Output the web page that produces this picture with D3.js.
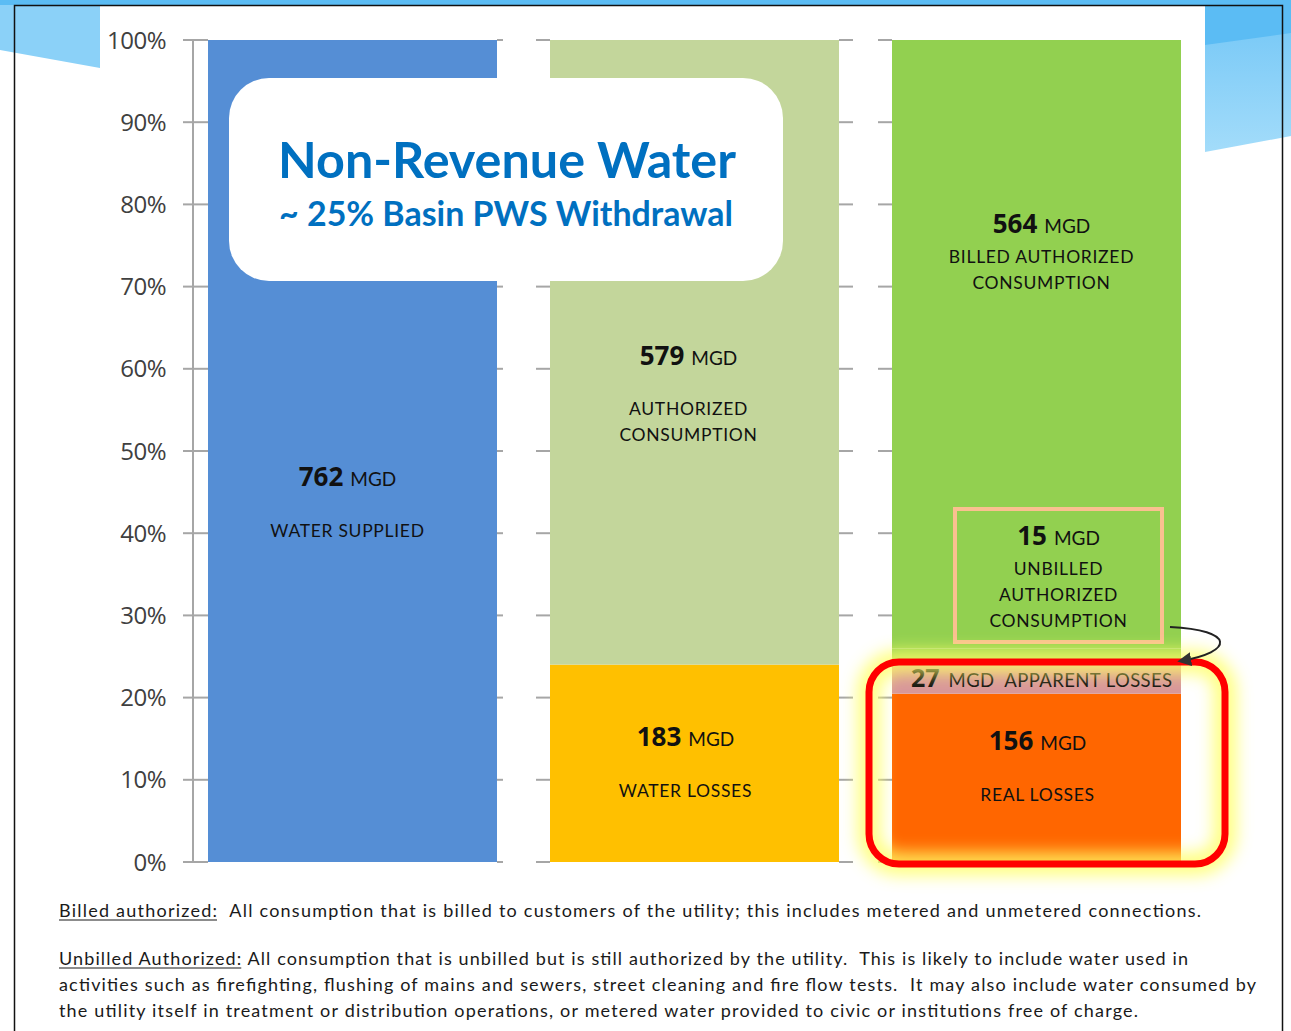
<!DOCTYPE html>
<html>
<head>
<meta charset="utf-8">
<script src="https://cdn.jsdelivr.net/npm/d3@7/dist/d3.min.js"></script>
<style>
  body { margin: 0; background: #fff; }
  svg { display: block; }
</style>
</head>
<body>
<svg id="chart" width="1291" height="1031"></svg>
<script>
// data (MGD)
const columns = ["supplied", "split", "detail"];
const suppliedNames = ["WATER SUPPLIED"];
const suppliedMgd = [762];
const splitNames = ["WATER LOSSES", "AUTHORIZED CONSUMPTION"];
const splitMgd = [183, 579];
const detailNames = ["REAL LOSSES", "APPARENT LOSSES", "UNBILLED AUTHORIZED CONSUMPTION", "BILLED AUTHORIZED CONSUMPTION"];
const detailMgd = [156, 27, 15, 564];
const tickValues = [0, 0.1, 0.2, 0.3, 0.4, 0.5, 0.6, 0.7, 0.8, 0.9, 1];

const colors = {
  "WATER SUPPLIED": "#558ed5",
  "WATER LOSSES": "#ffc000",
  "AUTHORIZED CONSUMPTION": "#c3d69b",
  "REAL LOSSES": "#ff6600",
  "APPARENT LOSSES": "#d8979a",
  "UNBILLED AUTHORIZED CONSUMPTION": "#92d050",
  "BILLED AUTHORIZED CONSUMPTION": "#92d050"
};

const total = suppliedMgd[0];
const svg = d3.select("#chart");

// stack each column into [y0, y1] fractions of supply
function stackCol(names, vals) {
  let acc = 0;
  return names.map((n, i) => {
    const d = { name: n, mgd: vals[i], y0: acc / total, y1: (acc + vals[i]) / total };
    acc += vals[i];
    return d;
  });
}
const stacks = [
  stackCol(suppliedNames, suppliedMgd),
  stackCol(splitNames, splitMgd),
  stackCol(detailNames, detailMgd)
];

const x = d3.scaleBand().domain(columns).range([208, 1181]).paddingInner(0.155);
const y = d3.scaleLinear().domain([0, 1]).range([862, 40]);

// background decoration
const defs = svg.append("defs");
const grad = defs.append("linearGradient").attr("id", "lightBlue").attr("x1", 0).attr("y1", 0).attr("x2", 0).attr("y2", 1);
grad.append("stop").attr("offset", "0%").attr("stop-color", "#72c6f6");
grad.append("stop").attr("offset", "100%").attr("stop-color", "#a3dcfa");
const glow = defs.append("filter").attr("id", "glow").attr("x", "-20%").attr("y", "-30%").attr("width", "140%").attr("height", "160%");
glow.append("feGaussianBlur").attr("stdDeviation", 8);

svg.append("rect").attr("x", 0).attr("y", 0).attr("width", 1291).attr("height", 6).attr("fill", "#5bbcf4");
svg.append("polygon").attr("points", "0,5 100,5 100,68 0,50").attr("fill", "#8bd1f8");
svg.append("polygon").attr("points", "1205,5 1291,5 1291,136 1205,152").attr("fill", "url(#lightBlue)");
svg.append("polygon").attr("points", "1205,5 1291,5 1291,33 1205,45").attr("fill", "#5bbcf4");

// slide border
svg.append("path")
  .attr("d", "M14.5,1031 V5.5 H1282.5 V1031")
  .attr("fill", "none").attr("stroke", "#111").attr("stroke-width", 1.5);

// y axis
const axisG = svg.append("g");
axisG.append("line").attr("x1", 193).attr("x2", 193).attr("y1", y(0)).attr("y2", y(1))
  .attr("stroke", "#a6a6a6").attr("stroke-width", 2);
axisG.selectAll(".tick").data(tickValues).join("line")
  .attr("x1", 183).attr("x2", x("supplied"))
  .attr("y1", d => y(d)).attr("y2", d => y(d))
  .attr("stroke", "#a6a6a6").attr("stroke-width", 2);
axisG.selectAll(".lbl").data(tickValues).join("text")
  .attr("x", 166).attr("y", d => y(d)).attr("dy", "0.36em")
  .attr("text-anchor", "end")
  .attr("font-family", "Open Sans").attr("font-size", 24).attr("fill", "#404040")
  .attr("letter-spacing", -0.5)
  .text(d3.format(".0%"));

// ticks beside the other columns
const sideTicks = [
  { x1: x("supplied") + x.bandwidth(), x2: x("supplied") + x.bandwidth() + 6 },
  { x1: x("split") - 14, x2: x("split") },
  { x1: x("split") + x.bandwidth(), x2: x("split") + x.bandwidth() + 14 },
  { x1: x("detail") - 14, x2: x("detail") }
];
sideTicks.forEach(s => {
  svg.append("g").selectAll("line").data(tickValues).join("line")
    .attr("x1", s.x1).attr("x2", s.x2)
    .attr("y1", d => y(d)).attr("y2", d => y(d))
    .attr("stroke", "#a6a6a6").attr("stroke-width", 2);
});

// bars
stacks.forEach((col, i) => {
  svg.append("g").selectAll("rect").data(col).join("rect")
    .attr("x", x(columns[i]))
    .attr("width", x.bandwidth())
    .attr("y", d => y(d.y1))
    .attr("height", d => y(d.y0) - y(d.y1))
    .attr("fill", d => colors[d.name]);
});

// title box
svg.append("rect").attr("x", 229).attr("y", 78).attr("width", 554).attr("height", 203)
  .attr("rx", 40).attr("fill", "#fff");

function fitWidth(sel, w) {
  const len = sel.node().getComputedTextLength();
  const fs = parseFloat(sel.attr("font-size"));
  sel.attr("font-size", fs * w / len);
}
const t1 = svg.append("text").attr("x", 507).attr("y", 178).attr("text-anchor", "middle")
  .attr("font-family", "Lato").attr("font-weight", "bold").attr("font-size", 48)
  .attr("fill", "#0070c0").text("Non-Revenue Water");
fitWidth(t1, 458);
const t2 = svg.append("text").attr("x", 506).attr("y", 226).attr("text-anchor", "middle")
  .attr("font-family", "Lato").attr("font-weight", "bold").attr("font-size", 32)
  .attr("fill", "#0070c0").text("~ 25% Basin PWS Withdrawal");
fitWidth(t2, 454);

// segment labels
function segLabel(cx, baseline, mgd, lines, gap) {
  const g = svg.append("g").attr("fill", "#111");
  const t = g.append("text").attr("x", cx).attr("y", baseline).attr("text-anchor", "middle");
  t.append("tspan").attr("font-family", "Open Sans").attr("font-weight", "bold").attr("font-size", 26).text(mgd);
  t.append("tspan").attr("font-family", "Lato").attr("font-size", 19).attr("dx", 7).text("MGD");
  lines.forEach((ln, k) => {
    g.append("text").attr("x", cx).attr("y", baseline + gap + k * 26).attr("text-anchor", "middle")
      .attr("font-family", "Lato").attr("font-size", 17.5).attr("letter-spacing", 0.7).text(ln);
  });
}
const cSup = x("supplied") + x.bandwidth() / 2;
const cSplit = x("split") + x.bandwidth() / 2;
const cDet = x("detail") + x.bandwidth() / 2;

// unbilled annotation box
svg.append("rect").attr("x", 955).attr("y", 509).attr("width", 207).attr("height", 133)
  .attr("fill", "none").attr("stroke", "#fac090").attr("stroke-width", 4);

segLabel(cSup - 5, y(0.457), suppliedMgd[0], ["WATER SUPPLIED"], 51);
segLabel(cSplit - 6, y(0.605), splitMgd[1], ["AUTHORIZED", "CONSUMPTION"], 50);
segLabel(cSplit - 9, y(0.141), splitMgd[0], ["WATER LOSSES"], 51);
segLabel(cDet + 5, y(0.765), detailMgd[3], ["BILLED AUTHORIZED", "CONSUMPTION"], 30);
segLabel(cDet + 22, y(0.386), detailMgd[2], ["UNBILLED", "AUTHORIZED", "CONSUMPTION"], 30);
segLabel(cDet + 1, y(0.136), detailMgd[0], ["REAL LOSSES"], 51);

// apparent losses inline label
const ap = svg.append("text").attr("x", 911).attr("y", y((detailMgd[0] + detailMgd[1] / 2) / total) + 8).attr("fill", "#111");
ap.append("tspan").attr("font-family", "Open Sans").attr("font-weight", "bold").attr("font-size", 25).text(detailMgd[1]);
ap.append("tspan").attr("font-family", "Lato").attr("font-size", 18.5).attr("dx", 9).attr("letter-spacing", 0.4)
  .attr("xml:space", "preserve").text("MGD  APPARENT LOSSES");

// highlight around the losses
svg.append("rect").attr("x", 869).attr("y", 662).attr("width", 356).attr("height", 202).attr("rx", 30)
  .attr("fill", "none").attr("stroke", "#ffff66").attr("stroke-width", 24).attr("opacity", 0.8)
  .attr("filter", "url(#glow)");
svg.append("rect").attr("x", 869).attr("y", 662).attr("width", 356).attr("height", 202).attr("rx", 30)
  .attr("fill", "none").attr("stroke", "#ff0000").attr("stroke-width", 7);

// curved arrow from unbilled box to apparent losses
defs.append("marker").attr("id", "arrow").attr("viewBox", "0 0 10 10").attr("refX", 8).attr("refY", 5)
  .attr("markerWidth", 7).attr("markerHeight", 7).attr("orient", "auto")
  .append("path").attr("d", "M0,0 L10,5 L0,10 z").attr("fill", "#333");
svg.append("path").attr("d", "M1170,627 C1235,630 1235,652 1180,661")
  .attr("fill", "none").attr("stroke", "#222").attr("stroke-width", 2)
  .attr("marker-end", "url(#arrow)");

// footnotes
const notes = [
  { label: "Billed authorized:", text: "  All consumption that is billed to customers of the utility; this includes metered and unmetered connections.", y: 917, w: 1142 },
  { label: "Unbilled Authorized:", text: " All consumption that is unbilled but is still authorized by the utility.  This is likely to include water used in", y: 965, w: 1129 },
  { label: "", text: "activities such as firefighting, flushing of mains and sewers, street cleaning and fire flow tests.  It may also include water consumed by", y: 991, w: 1197 },
  { label: "", text: "the utility itself in treatment or distribution operations, or metered water provided to civic or institutions free of charge.", y: 1017, w: 1079 }
];
notes.forEach(n => {
  const t = svg.append("text").attr("x", 59).attr("y", n.y)
    .attr("font-family", "Lato").attr("font-size", 18).attr("fill", "#1a1a1a")
    .attr("xml:space", "preserve")
    .text(n.label + n.text)
    .attr("textLength", n.w).attr("lengthAdjust", "spacing");
  if (n.label) {
    // underline drawn as a solid line under the label
    const end = t.node().getEndPositionOfChar(n.label.length - 1).x;
    svg.append("line").attr("x1", 59).attr("x2", end)
      .attr("y1", n.y + 3).attr("y2", n.y + 3)
      .attr("stroke", "#1a1a1a").attr("stroke-width", 1.2);
  }
});
</script>
</body>
</html>
